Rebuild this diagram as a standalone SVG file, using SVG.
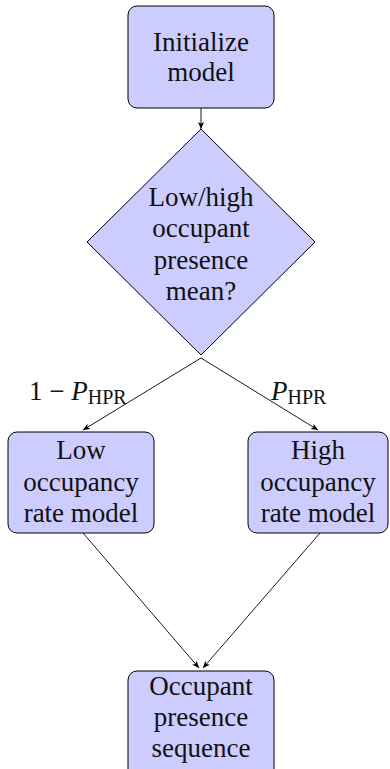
<svg xmlns="http://www.w3.org/2000/svg" width="390" height="769" viewBox="0 0 390 769">
<defs>
<style>
.box{fill:#ccccff;stroke:#000;stroke-width:1}
.c{stroke:#000;stroke-width:0.9;fill:none;marker-end:url(#ah)}
</style>
<marker id="ah" markerUnits="userSpaceOnUse" markerWidth="10" markerHeight="10" viewBox="-8 -5 10 10" refX="0" refY="0" orient="auto">
<path d="M0,0 L-7,-3 L-5.2,0 L-7,3 Z" fill="#000"/>
</marker>
</defs>
<g id="connectors">
<line class="c" x1="201" y1="108" x2="201" y2="129"/>
<line class="c" x1="201" y1="358" x2="83" y2="430"/>
<line class="c" x1="201" y1="358" x2="318" y2="430"/>
<line class="c" x1="83" y1="533" x2="199" y2="668"/>
<line class="c" x1="320" y1="533" x2="203" y2="668"/>
</g>
<g id="init">
<rect class="box" x="128" y="6" width="146" height="102" rx="9"/>
<text x="201" y="51" font-size="27" font-family="'Liberation Serif'" fill="#111" text-anchor="middle">Initialize</text>
<text x="201" y="81" font-size="27" font-family="'Liberation Serif'" fill="#111" text-anchor="middle">model</text>
</g>
<g id="decision">
<polygon class="box" points="201,129 315,242 201,355 87,242"/>
<text x="201" y="206" font-size="27" font-family="'Liberation Serif'" fill="#111" text-anchor="middle">Low/high</text>
<text x="201" y="237" font-size="27" font-family="'Liberation Serif'" fill="#111" text-anchor="middle">occupant</text>
<text x="201" y="269" font-size="27" font-family="'Liberation Serif'" fill="#111" text-anchor="middle">presence</text>
<text x="201" y="300" font-size="27" font-family="'Liberation Serif'" fill="#111" text-anchor="middle">mean?</text>
</g>
<g id="low">
<rect class="box" x="8" y="432" width="146" height="101" rx="9"/>
<text x="81" y="459" font-size="27" font-family="'Liberation Serif'" fill="#111" text-anchor="middle">Low</text>
<text x="81" y="491" font-size="27" font-family="'Liberation Serif'" fill="#111" text-anchor="middle">occupancy</text>
<text x="81" y="522" font-size="27" font-family="'Liberation Serif'" fill="#111" text-anchor="middle">rate model</text>
</g>
<g id="high">
<rect class="box" x="248" y="432" width="140" height="101" rx="9"/>
<text x="318" y="459" font-size="27" font-family="'Liberation Serif'" fill="#111" text-anchor="middle">High</text>
<text x="318" y="491" font-size="27" font-family="'Liberation Serif'" fill="#111" text-anchor="middle">occupancy</text>
<text x="318" y="522" font-size="27" font-family="'Liberation Serif'" fill="#111" text-anchor="middle">rate model</text>
</g>
<g id="sequence">
<rect class="box" x="128" y="671" width="146" height="110" rx="9"/>
<text x="201" y="695" font-size="27" font-family="'Liberation Serif'" fill="#111" text-anchor="middle">Occupant</text>
<text x="201" y="726" font-size="27" font-family="'Liberation Serif'" fill="#111" text-anchor="middle">presence</text>
<text x="201" y="757" font-size="27" font-family="'Liberation Serif'" fill="#111" text-anchor="middle">sequence</text>
</g>
<g id="labels">
<text x="29" y="400" font-size="27" font-family="'Liberation Serif'" fill="#111">1 − <tspan font-style="italic">P</tspan><tspan font-size="20" dy="4">HPR</tspan></text>
<text x="271" y="400" font-size="27" font-family="'Liberation Serif'" fill="#111"><tspan font-style="italic">P</tspan><tspan font-size="20" dy="4">HPR</tspan></text>
</g>
</svg>
